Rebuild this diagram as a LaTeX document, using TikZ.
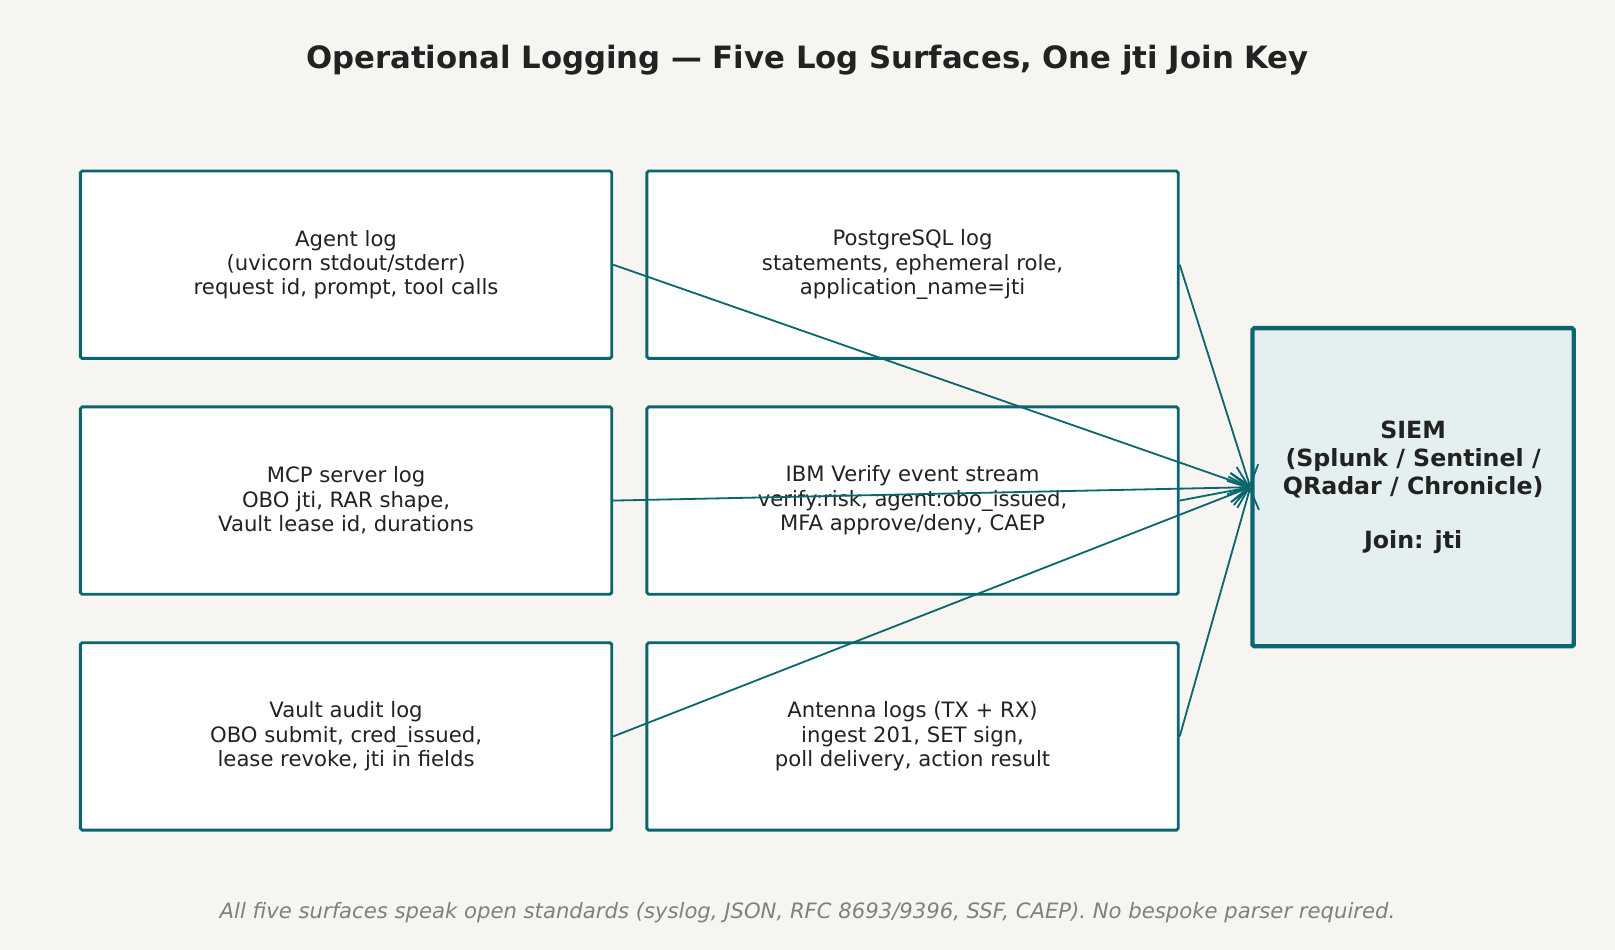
\documentclass[tikz,border=0pt]{standalone}
\usepackage{fontspec}
\setmainfont{DejaVu Sans}
\usetikzlibrary{arrows.meta}
\definecolor{teal}{HTML}{0B666E}
\definecolor{ink}{HTML}{222222}
\definecolor{paper}{HTML}{F6F5F1}
\definecolor{siemfill}{HTML}{E4F0EF}
\begin{document}
\begin{tikzpicture}[x=0.02cm,y=-0.02cm,
                    log node/.style={draw=teal,line width=1.6pt,fill=white,rounded corners=1pt,
                      minimum width=10.32cm,minimum height=3.64cm,align=center,
                      font=\fontsize{11.7}{13.5}\selectfont,text=ink},
                    feed/.style={draw=teal,line width=1pt,-{Straight Barb[length=10pt,width=16pt]}}]
  \fill[paper] (0,0) rectangle (1568,922);
  \useasboundingbox (0,0) rectangle (1568,922);

  \node[font=\bfseries\fontsize{17}{20}\selectfont,text=ink] (title) at (784,58)
    {Operational Logging — Five Log Surfaces, One jti Join Key};

  \node[log node] (agent) at (336,257) {Agent log\\(uvicorn stdout/stderr)\\request id, prompt, tool calls};
  \node[log node] (pg) at (886,257) {PostgreSQL log\\statements, ephemeral role,\\application\_name=jti};
  \node[log node] (mcp) at (336,486) {MCP server log\\OBO jti, RAR shape,\\Vault lease id, durations};
  \node[log node] (ibm) at (886,486) {IBM Verify event stream\\verify:risk, agent:obo\_issued,\\MFA approve/deny, CAEP};
  \node[log node] (vault) at (336,715) {Vault audit log\\OBO submit, cred\_issued,\\lease revoke, jti in fields};
  \node[log node] (antenna) at (886,715) {Antenna logs (TX + RX)\\ingest 201, SET sign,\\poll delivery, action result};

  \node[draw=teal,line width=2.4pt,fill=siemfill,rounded corners=1pt,minimum width=6.24cm,
        minimum height=6.18cm,align=center,font=\bfseries\fontsize{13.1}{15.5}\selectfont,text=ink]
    (siem) at (1372,473) {SIEM\\(Splunk / Sentinel /\\QRadar / Chronicle)\\[1.1em]Join: jti};

  \draw[feed] (agent.east) -- (siem.west);
  \draw[feed] (pg.east) -- (siem.west);
  \draw[feed] (mcp.east) -- (siem.west);
  \draw[feed] (ibm.east) -- (siem.west);
  \draw[feed] (vault.east) -- (siem.west);
  \draw[feed] (antenna.east) -- (siem.west);

  \node[font=\itshape\fontsize{11.7}{13.5}\selectfont,text=gray] (note) at (784,886)
    {All five surfaces speak open standards (syslog, JSON, RFC 8693/9396, SSF, CAEP). No bespoke parser required.};
\end{tikzpicture}
\end{document}
